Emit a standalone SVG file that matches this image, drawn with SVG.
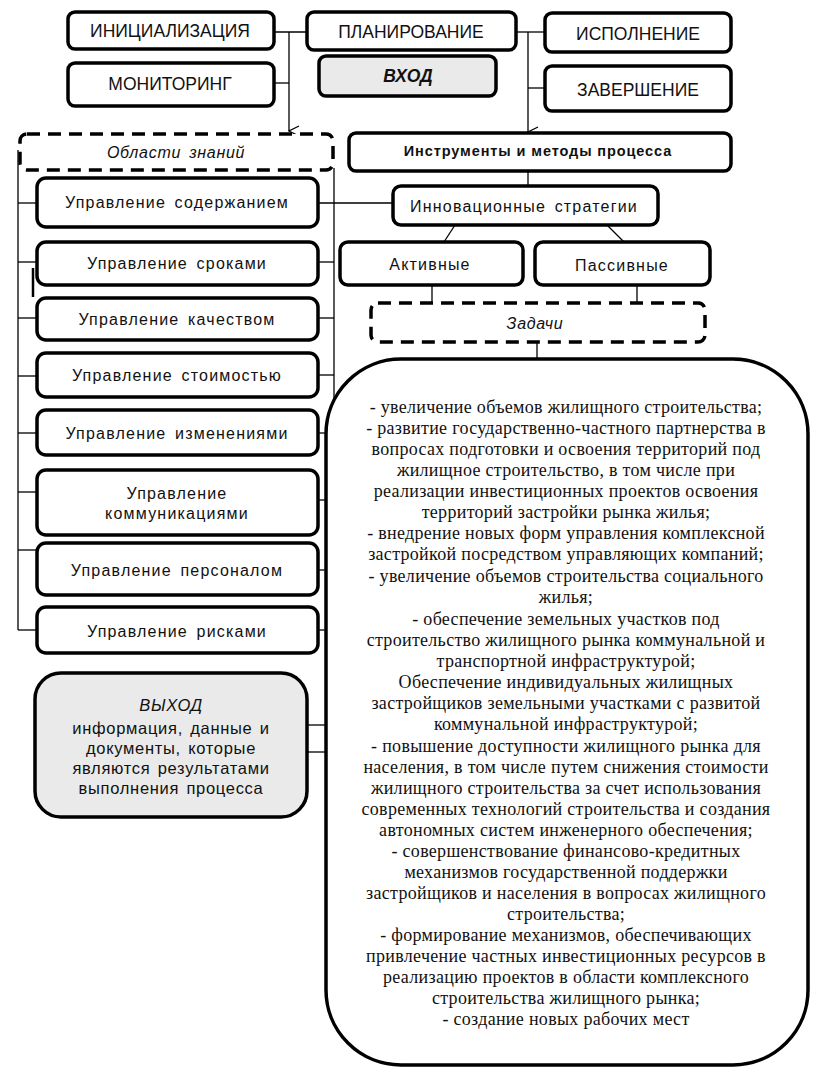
<svg xmlns="http://www.w3.org/2000/svg" width="822" height="1072" viewBox="0 0 822 1072">
<defs>
<style>
.box{fill:#fff;stroke:#000;stroke-width:3.5}
.gray{fill:#eaeaea;stroke:#000;stroke-width:3.5}
.dash{fill:#fff;stroke:#000;stroke-width:3.5;stroke-dasharray:13 8}
.ln{fill:none;stroke:#000;stroke-width:1.3}
.cap{font-family:"Liberation Sans",Arial,sans-serif;font-size:17.5px;fill:#111;text-anchor:middle}
.lt{font-family:"Liberation Sans",Arial,sans-serif;font-size:16px;letter-spacing:1.2px;word-spacing:3px;fill:#111;text-anchor:middle}
.it{font-family:"Liberation Sans",Arial,sans-serif;font-size:16px;font-style:italic;fill:#111;text-anchor:middle;letter-spacing:0.7px;word-spacing:3px}
.bd{font-family:"Liberation Sans",Arial,sans-serif;font-size:14.5px;font-weight:bold;letter-spacing:0.9px;fill:#111;text-anchor:middle}
.out{font-family:"Liberation Sans",Arial,sans-serif;font-size:16.5px;letter-spacing:0.7px;word-spacing:2px;fill:#111;text-anchor:middle}
.sr{font-family:"Liberation Serif","Times New Roman",serif;font-size:18px;letter-spacing:0.3px;fill:#111;text-anchor:middle}
</style>
<marker id="arr" markerWidth="12" markerHeight="12" refX="6" refY="11" orient="auto" markerUnits="userSpaceOnUse" viewBox="0 0 12 12">
<path d="M1 1 L6 11 L11 1" fill="none" stroke="#000" stroke-width="1.3"/>
</marker>
</defs>
<rect width="822" height="1072" fill="#fff"/>

<g id="connectors">
<line class="ln" x1="274" y1="32" x2="307" y2="32"/>
<line class="ln" x1="289" y1="32" x2="289" y2="131" marker-end="url(#arr)"/>
<line class="ln" x1="274" y1="83" x2="289" y2="83"/>
<line class="ln" x1="516" y1="32" x2="545" y2="32"/>
<line class="ln" x1="528" y1="32" x2="528" y2="132" marker-end="url(#arr)"/>
<line class="ln" x1="528" y1="88" x2="545" y2="88"/>
<line class="ln" x1="528" y1="170" x2="528" y2="186"/>
<line class="ln" x1="455" y1="225" x2="444" y2="242"/>
<line class="ln" x1="607" y1="225" x2="624" y2="242"/>
<line class="ln" x1="432" y1="285" x2="432" y2="302"/>
<line class="ln" x1="637" y1="285" x2="637" y2="302"/>
<line class="ln" x1="537" y1="342" x2="537" y2="359"/>
<line class="ln" x1="18" y1="150" x2="18" y2="630"/>
<line class="ln" x1="18" y1="203" x2="37" y2="203"/>
<line class="ln" x1="18" y1="262" x2="37" y2="262"/>
<line class="ln" x1="18" y1="318" x2="37" y2="318"/>
<line class="ln" x1="18" y1="376" x2="37" y2="376"/>
<line class="ln" x1="18" y1="433" x2="37" y2="433"/>
<line class="ln" x1="18" y1="492" x2="37" y2="492"/>
<line class="ln" x1="18" y1="550" x2="37" y2="550"/>
<line class="ln" x1="18" y1="630" x2="37" y2="630"/>
<line class="ln" x1="334" y1="168" x2="334" y2="440"/>
<line class="ln" x1="318" y1="203" x2="393" y2="203"/>
<line class="ln" x1="318" y1="262" x2="334" y2="262"/>
<line class="ln" x1="318" y1="318" x2="334" y2="318"/>
<line class="ln" x1="318" y1="375" x2="334" y2="375"/>
<line class="ln" x1="318" y1="433" x2="330" y2="433"/>
<line class="ln" x1="318" y1="500" x2="327" y2="500"/>
<line class="ln" x1="318" y1="570" x2="327" y2="570"/>
<line class="ln" x1="318" y1="630" x2="327" y2="630"/>
<line class="ln" x1="307" y1="725" x2="327" y2="725"/>
<line class="ln" x1="307" y1="752" x2="327" y2="752"/>
<line x1="33" y1="268" x2="33" y2="297" stroke="#000" stroke-width="2.5"/>
</g>

<g id="n-init"><rect class="box" x="68" y="12" width="206" height="37" rx="7"/><text class="cap" x="170" y="37">ИНИЦИАЛИЗАЦИЯ</text></g>
<g id="n-monitor"><rect class="box" x="68" y="63" width="206" height="43" rx="7"/><text class="cap" x="170" y="90">МОНИТОРИНГ</text></g>
<g id="n-plan"><rect class="box" x="307" y="12" width="209" height="38" rx="7"/><text class="cap" x="411" y="38">ПЛАНИРОВАНИЕ</text></g>
<g id="n-input"><rect class="gray" x="319" y="56" width="177" height="40" rx="7"/><text class="cap" x="408" y="82" font-size="19" font-weight="bold" font-style="italic">ВХОД</text></g>
<g id="n-exec"><rect class="box" x="545" y="13" width="186" height="39" rx="7"/><text class="cap" x="638" y="40">ИСПОЛНЕНИЕ</text></g>
<g id="n-close"><rect class="box" x="545" y="66" width="186" height="45" rx="7"/><text class="cap" x="638" y="96">ЗАВЕРШЕНИЕ</text></g>

<g id="n-areas"><rect class="dash" x="20" y="134" width="313" height="36" rx="7"/><text class="it" x="176" y="158">Области знаний</text></g>
<g id="n-tools"><rect class="box" x="349" y="133" width="382" height="38" rx="7"/><text class="bd" x="538" y="156">Инструменты и методы процесса</text></g>

<g id="n-m1"><rect class="box" x="37" y="178" width="281" height="49" rx="9"/><text class="lt" x="177" y="208">Управление содержанием</text></g>
<g id="n-m2"><rect class="box" x="37" y="242" width="281" height="43" rx="9"/><text class="lt" x="177" y="269">Управление сроками</text></g>
<g id="n-m3"><rect class="box" x="37" y="298" width="281" height="42" rx="9"/><text class="lt" x="177" y="325">Управление качеством</text></g>
<g id="n-m4"><rect class="box" x="37" y="353" width="281" height="44" rx="9"/><text class="lt" x="177" y="381">Управление стоимостью</text></g>
<g id="n-m5"><rect class="box" x="37" y="410" width="281" height="45" rx="9"/><text class="lt" x="177" y="439">Управление изменениями</text></g>
<g id="n-m6"><rect class="box" x="37" y="470" width="281" height="65" rx="9"/><text class="lt" x="177" y="499">Управление</text><text class="lt" x="177" y="519">коммуникациями</text></g>
<g id="n-m7"><rect class="box" x="37" y="543" width="281" height="52" rx="9"/><text class="lt" x="177" y="576">Управление персоналом</text></g>
<g id="n-m8"><rect class="box" x="37" y="607" width="281" height="46" rx="9"/><text class="lt" x="177" y="637">Управление рисками</text></g>

<g id="n-output"><rect class="gray" x="35" y="673" width="272" height="144" rx="26"/>
<text class="out" x="171" y="711" font-style="italic" font-size="19">ВЫХОД</text>
<text class="out" x="171" y="734">информация, данные и</text>
<text class="out" x="171" y="754">документы, которые</text>
<text class="out" x="171" y="774">являются результатами</text>
<text class="out" x="171" y="794">выполнения процесса</text></g>

<g id="n-innov"><rect class="box" x="393" y="186" width="265" height="39" rx="8"/><text class="lt" x="524" y="212">Инновационные стратегии</text></g>
<g id="n-active"><rect class="box" x="340" y="242" width="183" height="43" rx="8"/><text class="lt" x="430" y="270">Активные</text></g>
<g id="n-passive"><rect class="box" x="535" y="242" width="175" height="43" rx="8"/><text class="lt" x="622" y="271">Пассивные</text></g>
<g id="n-tasks"><rect class="dash" x="371" y="303" width="334" height="39" rx="7"/><text class="it" x="535" y="329">Задачи</text></g>

<g id="n-list"><rect class="box" x="326" y="359" width="482" height="706" rx="75"/>
<text class="sr" x="566" y="413">- увеличение объемов жилищного строительства;</text>
<text class="sr" x="566" y="434">- развитие государственно-частного партнерства в</text>
<text class="sr" x="566" y="455">вопросах подготовки и освоения территорий под</text>
<text class="sr" x="566" y="476">жилищное строительство, в том числе при</text>
<text class="sr" x="566" y="497">реализации инвестиционных проектов освоения</text>
<text class="sr" x="566" y="518">территорий застройки рынка жилья;</text>
<text class="sr" x="566" y="539">- внедрение новых форм управления комплексной</text>
<text class="sr" x="566" y="560">застройкой посредством управляющих компаний;</text>
<text class="sr" x="566" y="582">- увеличение объемов строительства социального</text>
<text class="sr" x="566" y="603">жилья;</text>
<text class="sr" x="566" y="625">- обеспечение земельных участков под</text>
<text class="sr" x="566" y="646">строительство жилищного рынка коммунальной и</text>
<text class="sr" x="566" y="667">транспортной инфраструктурой;</text>
<text class="sr" x="566" y="688">Обеспечение индивидуальных жилищных</text>
<text class="sr" x="566" y="709">застройщиков земельными участками с развитой</text>
<text class="sr" x="566" y="730">коммунальной инфраструктурой;</text>
<text class="sr" x="566" y="752">- повышение доступности жилищного рынка для</text>
<text class="sr" x="566" y="773">населения, в том числе путем снижения стоимости</text>
<text class="sr" x="566" y="794">жилищного строительства за счет использования</text>
<text class="sr" x="566" y="815">современных технологий строительства и создания</text>
<text class="sr" x="566" y="836">автономных систем инженерного обеспечения;</text>
<text class="sr" x="566" y="857">- совершенствование финансово-кредитных</text>
<text class="sr" x="566" y="878">механизмов государственной поддержки</text>
<text class="sr" x="566" y="899">застройщиков и населения в вопросах жилищного</text>
<text class="sr" x="566" y="920">строительства;</text>
<text class="sr" x="566" y="941">- формирование механизмов, обеспечивающих</text>
<text class="sr" x="566" y="962">привлечение частных инвестиционных ресурсов в</text>
<text class="sr" x="566" y="983">реализацию проектов в области комплексного</text>
<text class="sr" x="566" y="1004">строительства жилищного рынка;</text>
<text class="sr" x="566" y="1025">- создание новых рабочих мест</text>
</g>
</svg>
